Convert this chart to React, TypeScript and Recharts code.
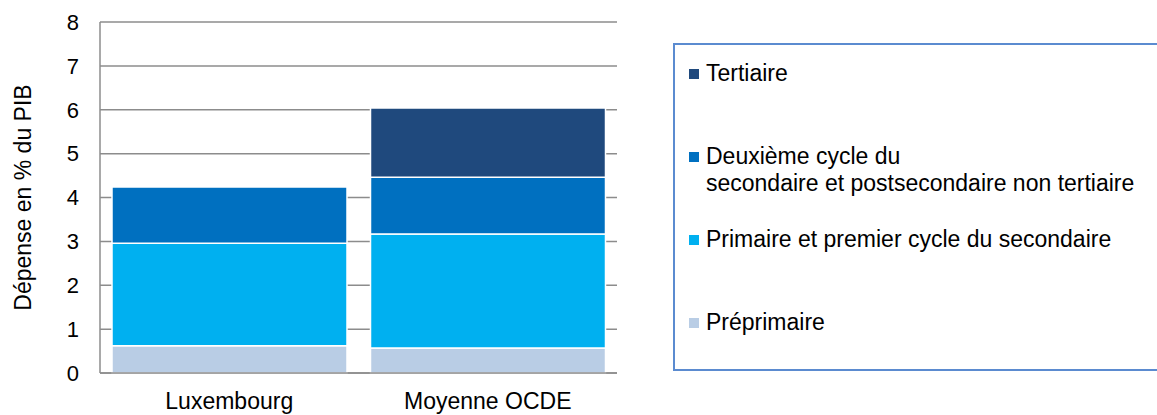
import { Bar, BarChart, CartesianGrid, Legend, XAxis, YAxis } from "recharts";

const CATEGORIES = ["Luxembourg", "Moyenne OCDE"];
const PREPRIMAIRE = [0.62, 0.57];
const PRIMAIRE = [2.34, 2.6];
const DEUXIEME = [1.28, 1.29];
const TERTIAIRE: (number | null)[] = [null, 1.58];
const Y_TICKS = [0, 1, 2, 3, 4, 5, 6, 7, 8];

// Legend reads top to bottom, the reverse of the stacking order.
const SERIES = [
  { key: "tertiaire", label: ["Tertiaire"], color: "#1f497d", values: TERTIAIRE },
  {
    key: "deuxieme",
    label: ["Deuxième cycle du", "secondaire et postsecondaire non tertiaire"],
    color: "#0070c0",
    values: DEUXIEME,
  },
  {
    key: "primaire",
    label: ["Primaire et premier cycle du secondaire"],
    color: "#00b0f0",
    values: PRIMAIRE,
  },
  { key: "preprimaire", label: ["Préprimaire"], color: "#b9cde5", values: PREPRIMAIRE },
];

const FONT = '"Liberation Sans", Arial, sans-serif';
const GRID = "#8c8c8c";
const TICK = { fontSize: 22, fill: "#000", fontFamily: FONT };

const rows = CATEGORIES.map((name, i) => {
  const row: Record<string, string | number | null> = { name };
  SERIES.forEach((s) => {
    row[s.key] = s.values[i];
  });
  return row;
});

// Item tops inside the legend box (px from box top).
const ITEM_TOPS = [15, 98, 181, 264];

function LegendBox() {
  return (
    <div
      style={{
        position: "relative",
        width: 500,
        height: 328,
        border: "2px solid #5b8bd0",
        boxSizing: "border-box",
        fontFamily: FONT,
        fontSize: 23,
        color: "#000",
      }}
    >
      {SERIES.map((s, i) => (
        <div
          key={s.key}
          style={{ position: "absolute", left: 14, top: ITEM_TOPS[i], lineHeight: "27px" }}
        >
          <span
            style={{
              position: "absolute",
              left: 0,
              top: 9,
              width: 10,
              height: 10,
              background: s.color,
            }}
          />
          {s.label.map((line) => (
            <div key={line} style={{ paddingLeft: 17, whiteSpace: "nowrap" }}>
              {line}
            </div>
          ))}
        </div>
      ))}
    </div>
  );
}

export default function App() {
  const stacked = [...SERIES].reverse();
  return (
    <div
      style={{
        position: "absolute",
        left: 0,
        top: 0,
        width: 1157,
        height: 415,
        overflow: "hidden",
        background: "#fff",
      }}
    >
      <BarChart
        width={1157}
        height={415}
        data={rows}
        margin={{ top: 22, right: 540, bottom: 0, left: 20 }}
        barCategoryGap={12}
      >
        <CartesianGrid vertical={false} stroke={GRID} strokeWidth={1.5} />
        <XAxis
          dataKey="name"
          height={42}
          tickLine={false}
          axisLine={{ stroke: GRID, strokeWidth: 1.5 }}
          tickSize={6}
          tickMargin={14}
          tick={{ ...TICK, fontSize: 23 }}
          interval={0}
        />
        <YAxis
          width={80}
          domain={[0, 8]}
          ticks={Y_TICKS}
          tickLine={false}
          axisLine={{ stroke: GRID, strokeWidth: 1.5 }}
          tickSize={6}
          tickMargin={15}
          tick={TICK}
          label={{
            value: "Dépense en % du PIB",
            angle: -90,
            position: "insideLeft",
            offset: 3,
            style: { fontSize: 23, fontFamily: FONT, fill: "#000", textAnchor: "middle" },
          }}
        />
        <Legend
          layout="horizontal"
          verticalAlign="middle"
          align="center"
          wrapperStyle={{ position: "absolute", left: 673, top: 43, width: 500, height: 328 }}
          content={() => <LegendBox />}
        />
        {stacked.map((s) => (
          <Bar
            key={s.key}
            dataKey={s.key}
            stackId="a"
            fill={s.color}
            stroke="#fff"
            strokeWidth={1.5}
            isAnimationActive={false}
          />
        ))}
      </BarChart>
    </div>
  );
}
